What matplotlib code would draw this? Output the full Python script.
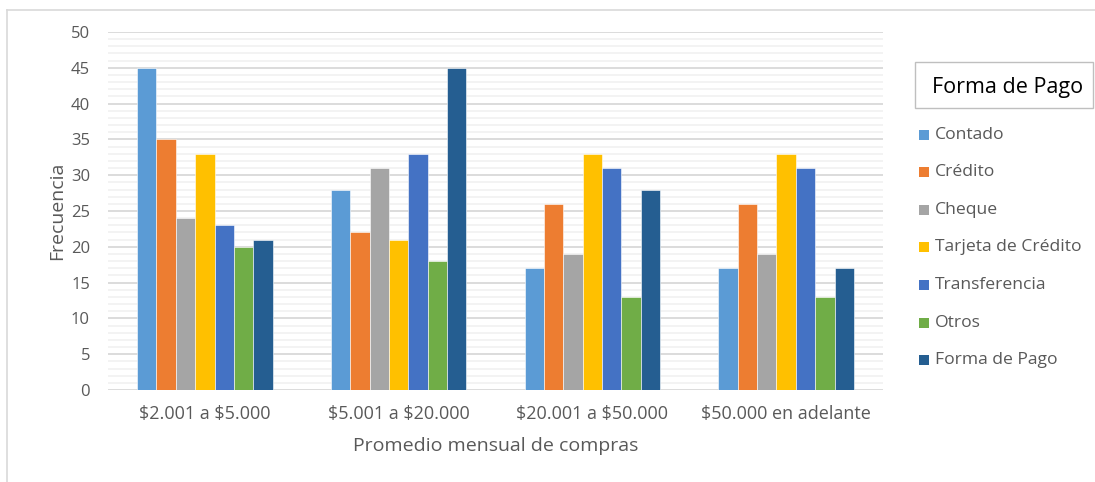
import numpy as np
import matplotlib.pyplot as plt
from matplotlib.lines import Line2D
from matplotlib.patches import Rectangle

plt.rcParams['font.family'] = ['Open Sans', 'DejaVu Sans']

categorias = [r'\$2.001 a \$5.000', r'\$5.001 a \$20.000', r'\$20.001 a \$50.000', r'\$50.000 en adelante']
series = ['Contado', 'Crédito', 'Cheque', 'Tarjeta de Crédito', 'Transferencia', 'Otros', 'Forma de Pago']
contado = [45, 28, 17, 17]
credito = [35, 22, 26, 26]
cheque = [24, 31, 19, 19]
tarjeta = [33, 21, 33, 33]
transferencia = [23, 33, 31, 31]
otros = [20, 18, 13, 13]
forma_pago = [21, 45, 28, 17]
valores = [contado, credito, cheque, tarjeta, transferencia, otros, forma_pago]
colores = ['#5B9BD5', '#ED7D31', '#A5A5A5', '#FFC000', '#4472C4', '#70AD47', '#255E91']

texto = '#595959'

fig = plt.figure(figsize=(10.95, 4.82), dpi=100)
ax = fig.add_axes([108 / 1095, 1 - 390 / 482, 775 / 1095, 358 / 482])

x = np.arange(len(categorias))
ancho = 0.1
for i, (vals, col) in enumerate(zip(valores, colores)):
    ax.bar(x + (i - 3) * ancho, vals, ancho, color=col, edgecolor='white',
           linewidth=0.4, zorder=3, label=series[i])

ax.set_xlim(-0.5, len(categorias) - 0.5)
ax.set_ylim(0, 50)
ax.set_yticks(np.arange(0, 51, 5))
ax.set_yticks(np.arange(0, 51, 1), minor=True)
ax.grid(axis='y', which='major', color='#d9d9d9', linewidth=1.3, zorder=0)
ax.grid(axis='y', which='minor', color='#f2f2f2', linewidth=1.3, zorder=0)
for s in ['top', 'right', 'left', 'bottom']:
    ax.spines[s].set_visible(False)
ax.tick_params(axis='y', which='both', length=0, labelsize=12, labelcolor=texto, pad=13)
ax.tick_params(axis='x', length=0, labelsize=13, labelcolor=texto, pad=11)
ax.set_xticks(x)
ax.set_xticklabels(categorias)
ax.set_ylabel('Frecuencia', fontsize=14, color=texto, labelpad=3)
ax.set_xlabel('Promedio mensual de compras', fontsize=14, color=texto, labelpad=10)

# leyenda
fig.add_artist(Rectangle((915 / 1095, 1 - 108 / 482), 178 / 1095, 46 / 482,
                         transform=fig.transFigure, facecolor='white',
                         edgecolor='#bfbfbf', linewidth=1))
fig.text(932 / 1095, 1 - 87 / 482, 'Forma de Pago', fontsize=15.5, color='black',
         va='center', ha='left')
ys = [135, 172, 210, 247, 285, 323, 360]
for nombre, col, yy in zip(series, colores, ys):
    fig.add_artist(Rectangle((919 / 1095, 1 - (yy + 5) / 482), 10 / 1095, 10 / 482,
                             transform=fig.transFigure, facecolor=col, edgecolor='none'))
    fig.text(935 / 1095, 1 - yy / 482, nombre, fontsize=12.6, color=texto,
             va='center', ha='left')

# borde del grafico
fig.add_artist(Line2D([7 / 1095, 1], [1 - 10 / 482, 1 - 10 / 482],
                      transform=fig.transFigure, color='#d9d9d9', linewidth=1.2))
fig.add_artist(Line2D([7 / 1095, 7 / 1095], [0, 1 - 10 / 482],
                      transform=fig.transFigure, color='#d9d9d9', linewidth=1.2))

fig.savefig('out.png', dpi=100)
